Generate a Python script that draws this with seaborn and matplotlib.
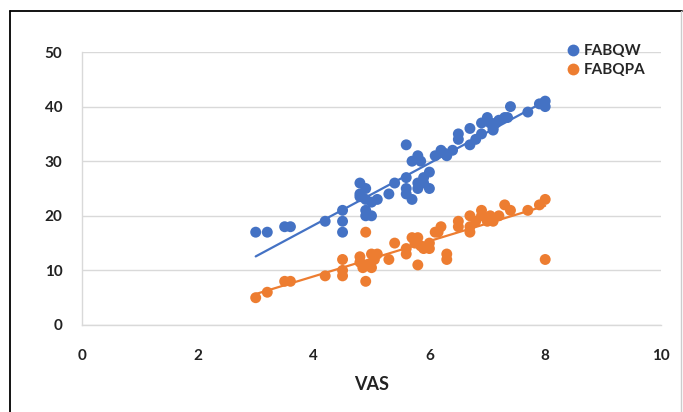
import numpy as np
import pandas as pd
import seaborn as sns
import matplotlib.pyplot as plt
from matplotlib.lines import Line2D

# FABQW vs VAS
fabqw_vas = [3.0, 3.2, 3.5, 3.6, 4.2, 4.5, 4.5, 4.5, 4.8, 4.9, 4.8, 4.8, 4.9, 5.0, 5.1,
             4.9, 5.0, 4.9, 5.3, 5.4, 5.6, 5.6, 5.6, 5.7, 5.6, 5.7, 5.8, 5.85, 5.8, 5.9,
             5.8, 6.0, 6.0, 5.9, 6.1, 6.2, 6.25, 6.3, 6.4, 6.5, 6.5, 6.7, 6.7, 6.8, 6.9,
             6.9, 7.0, 7.05, 7.1, 7.15, 7.1, 7.2, 7.3, 7.4, 7.35, 7.7, 7.9, 8.0, 8.0, 7.95]
fabqw = [17, 17, 18, 18, 19, 21, 19, 17, 26, 25, 24, 23.5, 23, 22.5, 23,
         21, 20, 20, 24, 26, 27, 25, 24, 23, 33, 30, 31, 30, 26, 26,
         25, 25, 28, 27, 31, 32, 31.5, 31, 32, 35, 34, 36, 33, 34, 35,
         37, 38, 37, 36, 37, 35.7, 37.5, 38, 40, 38, 39, 40.5, 41, 40, 40.5]

# FABQPA vs VAS
fabqpa_vas = [3.0, 3.2, 3.5, 3.6, 4.2, 4.5, 4.5, 4.5, 4.9, 4.8, 4.8, 4.85, 4.9, 5.0, 5.05,
              5.1, 4.95, 5.0, 5.3, 5.4, 5.6, 5.6, 5.7, 5.8, 5.75, 5.8, 5.85, 5.9, 6.0, 6.0,
              6.1, 6.2, 6.15, 6.3, 6.3, 6.5, 6.5, 6.7, 6.7, 6.7, 6.8, 6.9, 6.9, 7.0, 7.05,
              7.1, 7.2, 7.3, 7.4, 7.7, 7.9, 8.0, 8.0]
fabqpa = [5, 6, 8, 8, 9, 12, 10, 9, 17, 12.5, 11.5, 10.5, 8, 13, 12,
          13, 11, 10.5, 12, 15, 14, 13, 16, 16, 15, 11, 14.5, 14, 14, 15,
          17, 18, 17, 13, 12, 19, 18, 20, 18, 17, 19, 21, 20, 19, 20,
          19, 20, 22, 21, 21, 22, 23, 12]

df = pd.concat([
    pd.DataFrame({'VAS': fabqw_vas, 'score': fabqw, 'series': 'FABQW'}),
    pd.DataFrame({'VAS': fabqpa_vas, 'score': fabqpa, 'series': 'FABQPA'}),
])
colors = {'FABQW': '#4472C4', 'FABQPA': '#ED7D31'}

sns.set_theme(style='white')
plt.rcParams['font.family'] = ['Lato', 'DejaVu Sans']

fig = plt.figure(figsize=(6.83, 4.12), dpi=100)
ax = fig.add_axes([82 / 683, 1 - 325 / 412, (661 - 82) / 683, (325 - 52) / 412])

sns.scatterplot(data=df, x='VAS', y='score', hue='series', palette=colors,
                s=62, linewidth=0, alpha=1, ax=ax, legend=False, zorder=3)

for name in ['FABQW', 'FABQPA']:
    sub = df[df['series'] == name]
    sns.regplot(data=sub, x='VAS', y='score', scatter=False, ci=None, truncate=True,
                color=colors[name], line_kws={'linewidth': 1.6, 'zorder': 2}, ax=ax)

ax.set_xlim(0, 10)
ax.set_ylim(0, 50)
ax.set_xticks(range(0, 11, 2))
ax.set_yticks(range(0, 51, 10))
ax.grid(axis='y', color='#D9D9D9', linewidth=1)
ax.set_axisbelow(True)
for side in ['top', 'right']:
    ax.spines[side].set_visible(False)
for side in ['left', 'bottom']:
    ax.spines[side].set_color('#D9D9D9')
    ax.spines[side].set_linewidth(1)
ax.tick_params(axis='x', length=0, pad=17, labelsize=11, labelcolor='#222222')
ax.tick_params(axis='y', length=0, pad=14, labelsize=11, labelcolor='#222222')
for lab in ax.get_xticklabels() + ax.get_yticklabels():
    lab.set_fontweight('bold')
ax.set_xlabel('VAS', fontsize=13, fontweight='bold', color='#222222', labelpad=10)
ax.set_ylabel('')

handles = [Line2D([], [], marker='o', linestyle='', markersize=8.5,
                  markerfacecolor=colors[n], markeredgewidth=0, label=n)
           for n in ['FABQW', 'FABQPA']]
fig.legend(handles=handles, loc='upper left', bbox_to_anchor=(558 / 683, 1 - 38 / 412),
           frameon=False, handletextpad=0.1, labelspacing=0.35, borderaxespad=0,
           handlelength=1.2, prop={'weight': 'bold', 'size': 11})

# outer frame of the pasted chart
fig.add_artist(Line2D([10 / 683, 10 / 683], [0, 1 - 11 / 412], color='black', linewidth=1.3))
fig.add_artist(Line2D([10 / 683, 682 / 683], [1 - 11 / 412, 1 - 11 / 412], color='black', linewidth=1.3))
fig.add_artist(Line2D([681 / 683, 681 / 683], [0, 1 - 11 / 412], color='#CCCCCC', linewidth=1))

fig.savefig('out.png', dpi=100)
